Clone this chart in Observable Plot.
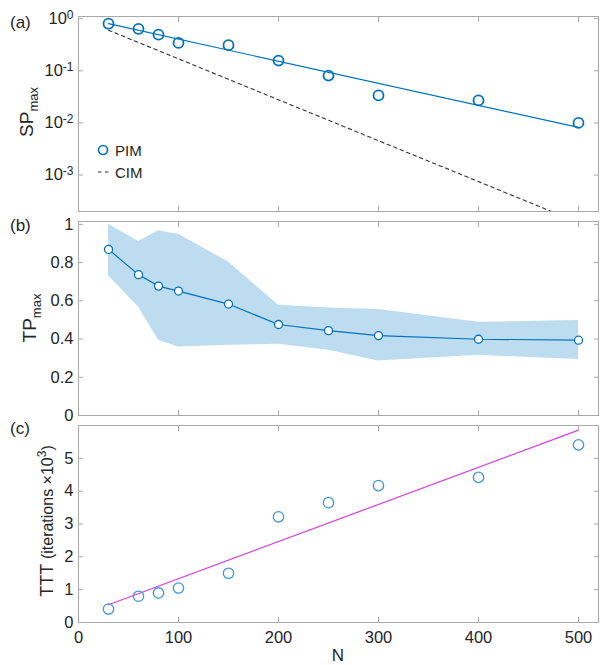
<!DOCTYPE html>
<html><head><meta charset="utf-8">
<script src="https://cdn.jsdelivr.net/npm/d3@7"></script>
<script src="https://cdn.jsdelivr.net/npm/@observablehq/plot@0.6"></script>
<style>
body{margin:0;background:#fff;font-family:"Liberation Sans",Arial,sans-serif;}
#wrap{position:relative;width:600px;height:665px;background:#fff;}
#wrap svg{position:absolute;left:0;}
</style></head><body><div id="wrap"></div>
<script>
// ---- data ----
const N = [30, 60, 80, 100, 150, 200, 250, 300, 400, 500];
const spPIM = [0.80, 0.635, 0.494, 0.343, 0.31, 0.157, 0.081, 0.0337, 0.027, 0.0100];
const fitN = [30, 500];
const fitPIM = [0.80, 0.0082];
const cimN = [30, 500];
const cimSP = [0.60, 1.23e-4];
const tpMean = [0.869, 0.737, 0.677, 0.651, 0.583, 0.476, 0.444, 0.418, 0.399, 0.394];
const tpUpper = [1.0, 0.911, 0.965, 0.948, 0.803, 0.577, 0.563, 0.554, 0.488, 0.497];
const tpLower = [0.730, 0.568, 0.394, 0.359, 0.368, 0.373, 0.341, 0.285, 0.315, 0.293];
const ttt = [0.41, 0.80, 0.90, 1.05, 1.50, 3.22, 3.65, 4.17, 4.42, 5.41];
const tttFitN = [30, 500];
const tttFit = [0.54, 5.86];
const xTicks = [0, 100, 200, 300, 400, 500];
const xTickLabels = ["0", "100", "200", "300", "400", "500"];
const spTicks = [1, 0.1, 0.01, 0.001];
const spTickExp = ["0", "-1", "-2", "-3"];
const tpTicks = [0, 0.2, 0.4, 0.6, 0.8, 1];
const tpTickLabels = ["0", "0.2", "0.4", "0.6", "0.8", "1"];
const tttTicks = [0, 1, 2, 3, 4, 5];
const tttTickLabels = ["0", "1", "2", "3", "4", "5"];

// ---- tables ----
const rows = N.map((n, i) => ({N: n, sp: spPIM[i], tp: tpMean[i], hi: tpUpper[i], lo: tpLower[i], ttt: ttt[i]}));
const fitRows = fitN.map((n, i) => ({N: n, v: fitPIM[i]}));
const cimRows = cimN.map((n, i) => ({N: n, v: cimSP[i]}));
const tttFitRows = tttFitN.map((n, i) => ({N: n, v: tttFit[i]}));

const C = "#0072BD";
const frameColor = "#a9a9a9";
const textColor = "#262626";
const FONT = '"Liberation Sans", Arial, sans-serif';
const style = {fontFamily: FONT, fontSize: "16.5px", color: textColor, background: "transparent", overflow: "visible"};
const xScale = {domain: [0, 520]};

function xAxes(labels) {
  return [
    Plot.axisX({anchor: "bottom", ticks: xTicks, tickSize: -5, tickPadding: 14, stroke: frameColor, fill: textColor,
      tickFormat: labels ? (d => labels[xTicks.indexOf(d)]) : (() => ""), label: null}),
    Plot.axisX({anchor: "top", ticks: xTicks, tickSize: -5, stroke: frameColor, tickFormat: () => "", label: null})
  ];
}
function yAxes(ticks, fmt) {
  return [
    Plot.axisY({anchor: "left", ticks, tickSize: -5, tickPadding: 10, stroke: frameColor, fill: textColor, tickFormat: fmt, label: null}),
    Plot.axisY({anchor: "right", ticks, tickSize: -5, stroke: frameColor, tickFormat: () => "", label: null})
  ];
}

const wrap = document.getElementById("wrap");

// ---- panel (a) ----
const svgA = Plot.plot({
  width: 600, height: 213, marginTop: 16, marginBottom: 2, marginLeft: 78, marginRight: 2,
  style,
  x: xScale,
  y: {type: "log", domain: [2e-4, 1.1]},
  marks: [
    Plot.line(cimRows, {x: "N", y: "v", stroke: "#333", strokeWidth: 1.1, strokeDasharray: "3.5,3.5", clip: true}),
    Plot.line(fitRows, {x: "N", y: "v", stroke: C, strokeWidth: 1.2}),
    Plot.dot(rows, {x: "N", y: "sp", r: 5, stroke: C, strokeWidth: 1.8, fill: "none"}),
    Plot.frame({stroke: frameColor}),
    ...xAxes(null),
    ...yAxes(spTicks, d => spTickExp[spTicks.indexOf(d)])
  ]
});
svgA.style.top = "0px";
wrap.appendChild(svgA);

// ---- panel (b) ----
const svgB = Plot.plot({
  width: 600, height: 204, marginTop: 8, marginBottom: 2, marginLeft: 78, marginRight: 2,
  style,
  x: xScale,
  y: {domain: [0, 1.015]},
  marks: [
    Plot.areaY(rows, {x: "N", y1: "lo", y2: "hi", fill: "#bedcef"}),
    Plot.line(rows, {x: "N", y: "tp", stroke: C, strokeWidth: 1.2}),
    Plot.dot(rows, {x: "N", y: "tp", r: 4, fill: "white", stroke: C, strokeWidth: 1.3}),
    Plot.frame({stroke: frameColor}),
    ...xAxes(null),
    ...yAxes(tpTicks, d => tpTickLabels[tpTicks.indexOf(d)])
  ]
});
svgB.style.top = "213px";
wrap.appendChild(svgB);

// ---- panel (c) ----
const svgC = Plot.plot({
  width: 600, height: 248, marginTop: 8, marginBottom: 43, marginLeft: 78, marginRight: 2,
  style,
  x: xScale,
  y: {domain: [0, 6]},
  marks: [
    Plot.line(tttFitRows, {x: "N", y: "v", stroke: "#d63fdc", strokeWidth: 1.2}),
    Plot.dot(rows, {x: "N", y: "ttt", r: 5.2, stroke: "#3f97d8", strokeWidth: 1.3, fill: "none"}),
    Plot.frame({stroke: frameColor}),
    ...xAxes(xTickLabels),
    ...yAxes(tttTicks, d => tttTickLabels[tttTicks.indexOf(d)])
  ]
});
svgC.style.top = "417px";
wrap.appendChild(svgC);

// ---- superscript tick labels for log axis ----
d3.select(svgA).selectAll('g[aria-label="y-axis tick label"] text').each(function() {
  const t = d3.select(this);
  const e = t.text();
  if (!e) return;
  t.text("10");
  t.append("tspan").attr("dy", "-0.45em").attr("font-size", "12px").text(e);
});

// ---- text helpers ----
function addText(svg, x, y, str, size) {
  return d3.select(svg).append("text").attr("x", x).attr("y", y).attr("text-anchor", "start")
    .attr("font-family", FONT).attr("font-size", size).attr("fill", textColor).text(str);
}
function addYLabel(svg, x, y, parts) {
  const t = d3.select(svg).append("text")
    .attr("transform", `translate(${x},${y}) rotate(-90)`)
    .attr("text-anchor", "middle").attr("font-family", FONT).attr("fill", textColor);
  for (const p of parts) {
    const s = t.append("tspan").attr("font-size", p.size).text(p.text);
    if (p.dy) s.attr("dy", p.dy);
  }
}

addText(svgA, 10, 28, "(a)", "17px");
addText(svgB, 10, 18, "(b)", "17px");
addText(svgC, 10, 17, "(c)", "17px");

addYLabel(svgA, 33, 112, [{text: "SP", size: "19px"}, {text: "max", size: "13px", dy: "5"}]);
addYLabel(svgB, 36, 105, [{text: "TP", size: "19px"}, {text: "max", size: "13px", dy: "5"}]);
addYLabel(svgC, 53, 104, [
  {text: "TTT ", size: "18px"},
  {text: "(iterations \u00d710", size: "16px"},
  {text: "3", size: "12px", dy: "-7"},
  {text: ")", size: "16px", dy: "7"}
]);

d3.select(svgC).append("text").attr("x", 338).attr("y", 244).attr("text-anchor", "middle")
  .attr("font-family", FONT).attr("font-size", "17px").attr("fill", textColor).text("N");

// ---- legend (a) ----
const lg = d3.select(svgA).append("g");
lg.append("circle").attr("cx", 103).attr("cy", 150).attr("r", 4.5).attr("fill", "none").attr("stroke", C).attr("stroke-width", 1.6);
addText(svgA, 115, 155.5, "PIM", "15px");
lg.append("line").attr("x1", 98).attr("x2", 112).attr("y1", 172).attr("y2", 172)
  .attr("stroke", "#333").attr("stroke-width", 1.1).attr("stroke-dasharray", "3.5,3.5");
addText(svgA, 115, 177.5, "CIM", "15px");
</script>
</body></html>
